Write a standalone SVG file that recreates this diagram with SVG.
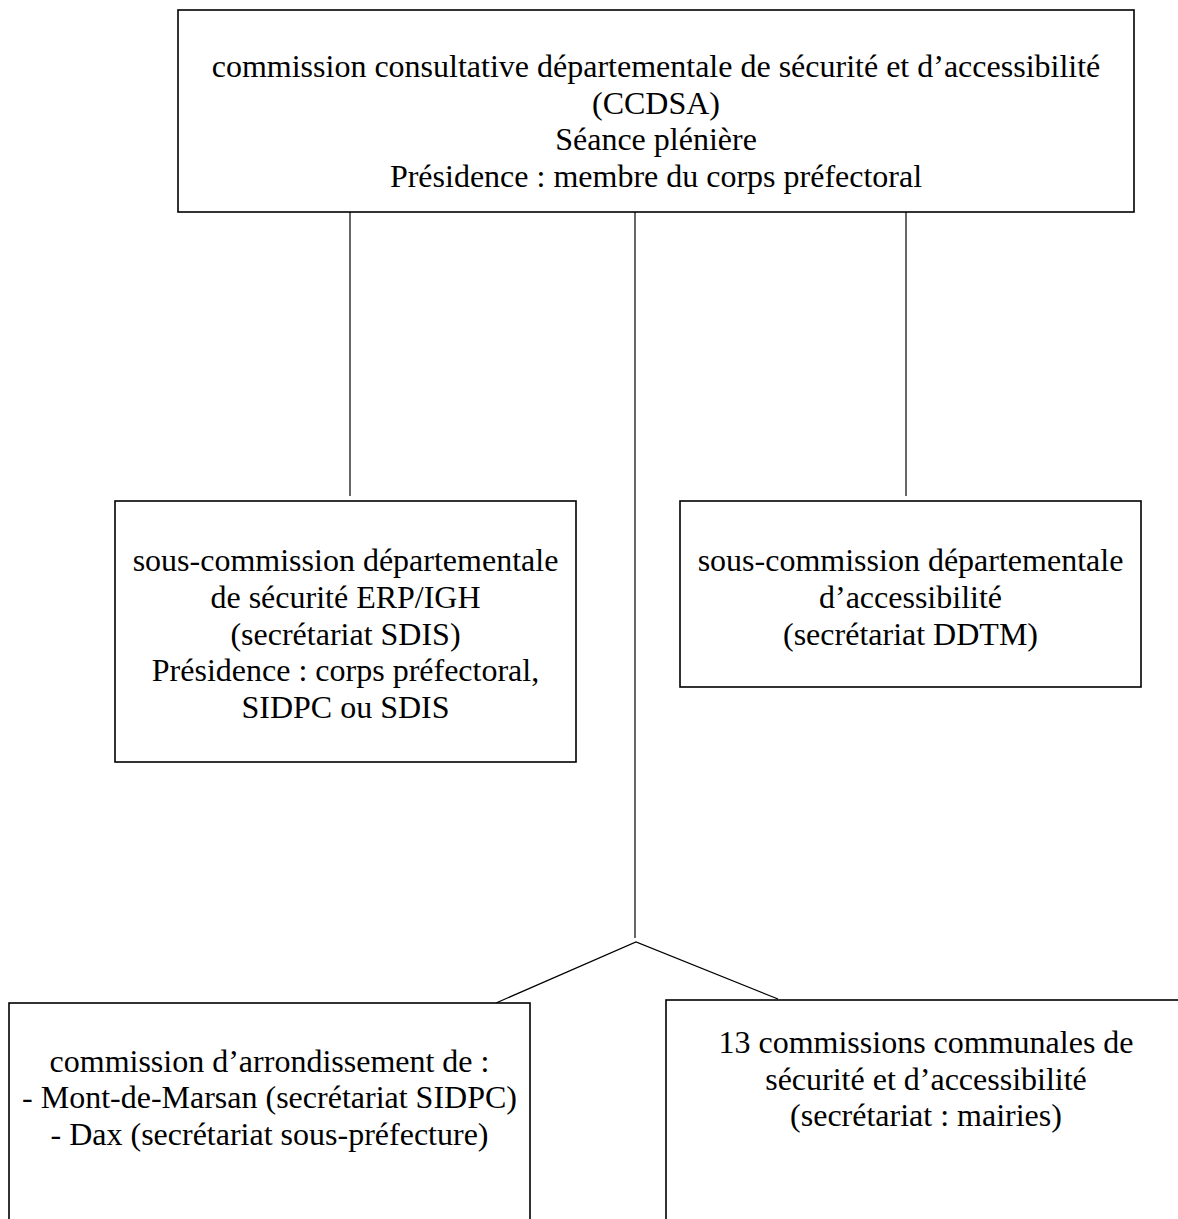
<svg xmlns="http://www.w3.org/2000/svg" width="1178" height="1219" viewBox="0 0 1178 1219">
<style>
.box{fill:#fff;stroke:#000;stroke-width:1.6}
.lbl{font-family:"Liberation Serif","Times New Roman",serif;font-size:32px;fill:#000;text-anchor:middle}
.con{fill:none;stroke:#000;stroke-width:1.2}
</style>
<rect width="1178" height="1219" fill="#fff"/>
<g id="connectors">
<line class="con" x1="350" y1="212" x2="350" y2="496"/>
<line class="con" x1="635" y1="212" x2="635" y2="938"/>
<line class="con" x1="906" y1="212" x2="906" y2="496"/>
<polyline class="con" points="496,1003 636,942 778,999"/>
</g>
<g id="ccdsa">
<rect class="box" x="178" y="10" width="956" height="202"/>
<text class="lbl" x="656" y="77">commission consultative départementale de sécurité et d’accessibilité</text>
<text class="lbl" x="656" y="114">(CCDSA)</text>
<text class="lbl" x="656" y="150">Séance plénière</text>
<text class="lbl" x="656" y="187">Présidence : membre du corps préfectoral</text>
</g>
<g id="sous-commission-securite">
<rect class="box" x="115" y="501" width="461" height="261"/>
<text class="lbl" x="345.5" y="571">sous-commission départementale</text>
<text class="lbl" x="345.5" y="608">de sécurité ERP/IGH</text>
<text class="lbl" x="345.5" y="645">(secrétariat SDIS)</text>
<text class="lbl" x="345.5" y="681">Présidence : corps préfectoral,</text>
<text class="lbl" x="345.5" y="718">SIDPC ou SDIS</text>
</g>
<g id="sous-commission-accessibilite">
<rect class="box" x="680" y="501" width="461" height="186"/>
<text class="lbl" x="910.5" y="571">sous-commission départementale</text>
<text class="lbl" x="910.5" y="608">d’accessibilité</text>
<text class="lbl" x="910.5" y="645">(secrétariat DDTM)</text>
</g>
<g id="commission-arrondissement">
<rect class="box" x="9" y="1003" width="521" height="240"/>
<text class="lbl" x="269.5" y="1072">commission d’arrondissement de :</text>
<text class="lbl" x="269.5" y="1108">- Mont-de-Marsan (secrétariat SIDPC)</text>
<text class="lbl" x="269.5" y="1145">- Dax (secrétariat sous-préfecture)</text>
</g>
<g id="commissions-communales">
<rect class="box" x="666" y="1000" width="524" height="240"/>
<text class="lbl" x="926" y="1053">13 commissions communales de</text>
<text class="lbl" x="926" y="1090">sécurité et d’accessibilité</text>
<text class="lbl" x="926" y="1126">(secrétariat : mairies)</text>
</g>
</svg>
